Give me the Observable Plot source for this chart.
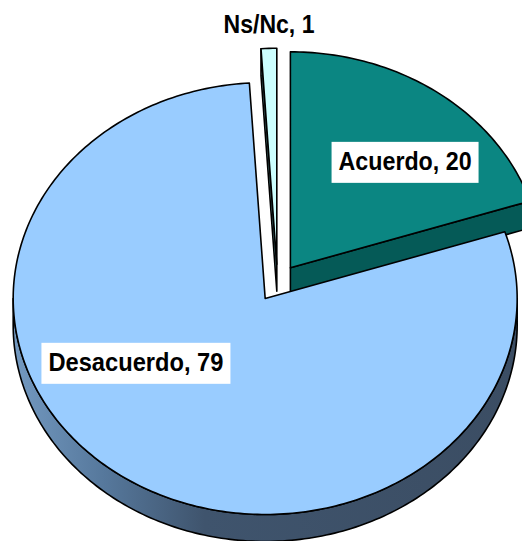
<!DOCTYPE html>
<html><head><meta charset="utf-8">
<script src="https://cdn.jsdelivr.net/npm/d3@7"></script>
<script src="https://cdn.jsdelivr.net/npm/@observablehq/plot@0.6"></script>
<style>html,body{margin:0;padding:0;background:#fff;overflow:hidden;}</style>
</head><body><div id="chart"></div>
<script>
// ---- data ----
const categories = ["Acuerdo", "Desacuerdo", "Ns/Nc"];
const values = [20, 79, 1];
const labels = ["Acuerdo, 20", "Desacuerdo, 79", "Ns/Nc, 1"];

// ---- layout / style ----
const W = 522, H = 541;
const tilt = 0.857, depth = 0.107, explode = 0.087;
const topColor = {"Acuerdo": "#0b8682", "Desacuerdo": "#99ccff", "Ns/Nc": "#ccffff"};
const wallColor = {"Acuerdo": "#055a57", "Desacuerdo": "url(#sideGrad)", "Ns/Nc": "#5f9a9a"};
const labelPlace = {"Acuerdo": [42.9, 0.6685], "Desacuerdo": [239.8, 0.5934], "Ns/Nc": [-1.6, 1.108]};
const labelBox = {"Acuerdo": true, "Desacuerdo": true, "Ns/Nc": false};
const labelWidth = {"Acuerdo": 133, "Desacuerdo": 175, "Ns/Nc": 91};
const drawOrder = ["Ns/Nc", "Acuerdo", "Desacuerdo"];
const rad = d => d * Math.PI / 180;

const arcs = d3.pie().sort(null).startAngle(0).endAngle(2 * Math.PI)(values)
  .map((a, i) => ({...a, name: categories[i], label: labels[i]}));

const pt = (c, a, r, h = 0) => ({x: c.x + r * Math.sin(a), y: c.y - r * Math.cos(a) * tilt + h});
function arcPts(c, a0, a1, h) {
  const n = Math.max(2, Math.ceil(Math.abs(a1 - a0) / rad(1)));
  return d3.range(n + 1).map(k => pt(c, a0 + (a1 - a0) * k / n, 1, h));
}

const marks = [];
const texts = [];
for (const name of drawOrder) {
  const s = arcs.find(d => d.name === name);
  const a0 = s.startAngle, a1 = s.endAngle, mid = (a0 + a1) / 2;
  const c = {x: explode * Math.sin(mid), y: -explode * Math.cos(mid) * tilt};
  const shapes = [];
  // outer wall (front-facing part)
  const lo = Math.max(a0, Math.PI / 2), hi = Math.min(a1, 3 * Math.PI / 2);
  if (hi > lo) shapes.push({fill: wallColor[name], pts: [...arcPts(c, lo, hi, 0), ...arcPts(c, hi, lo, depth)]});
  // radial walls
  for (const [a, n] of [[a0, a0 - Math.PI / 2], [a1, a1 + Math.PI / 2]]) {
    if (Math.cos(n) < -1e-6) {
      const fill = name === "Desacuerdo" ? "#3e536c" : wallColor[name];
      shapes.push({fill, pts: [pt(c, a, 0), pt(c, a, 1), pt(c, a, 1, depth), pt(c, a, 0, depth)]});
    }
  }
  // top face
  shapes.push({fill: topColor[name], pts: [pt(c, 0, 0), ...arcPts(c, a0, a1, 0)]});
  for (const sh of shapes) {
    marks.push(Plot.line(sh.pts, {x: "x", y: "y", fill: sh.fill, stroke: "#000", strokeWidth: 1.6,
      strokeLinejoin: "round", curve: "linear-closed"}));
  }
  const [la, lr] = labelPlace[name];
  texts.push({...pt(c, rad(la), lr), text: s.label, name});
}

const x0 = -277 / 252, y0 = -282.5 / 252;
marks.push(Plot.text(texts, {x: "x", y: "y", text: "text", fontSize: 26, fontWeight: "bold",
  fontFamily: "Liberation Sans, Arial, sans-serif", fill: "#000", lineAnchor: "middle"}));

const svg = Plot.plot({
  width: W, height: H, margin: 0,
  x: {domain: [x0, x0 + W / 252], range: [0, W], axis: null},
  y: {domain: [y0, y0 + H / 252], range: [0, H], axis: null},
  style: {background: "#fff", overflow: "hidden"},
  marks
});
document.getElementById("chart").appendChild(svg);

// gradient for the side wall
const defs = d3.select(svg).insert("defs", ":first-child");
const g = defs.append("linearGradient").attr("id", "sideGrad").attr("x1", 0).attr("x2", 1).attr("y1", 0).attr("y2", 0);
[[0, "#7399c0"], [0.18, "#56789c"], [0.38, "#3f546d"], [1, "#3b4d63"]].forEach(([o, col]) =>
  g.append("stop").attr("offset", o).attr("stop-color", col));

// compress labels and add white boxes
d3.select(svg).selectAll("text").each(function(d, i) {
  const t = texts[i];
  if (!t) return;
  this.setAttribute("textLength", labelWidth[t.name]);
  this.setAttribute("lengthAdjust", "spacingAndGlyphs");
  if (!labelBox[t.name]) return;
  const b = this.getBBox();
  const padX = 7, boxH = 41;
  const r = document.createElementNS("http://www.w3.org/2000/svg", "rect");
  r.setAttribute("x", b.x - padX);
  r.setAttribute("y", b.y + b.height / 2 - boxH / 2 + 1);
  r.setAttribute("width", b.width + 2 * padX);
  r.setAttribute("height", boxH);
  r.setAttribute("fill", "#fff");
  if (this.getAttribute("transform")) r.setAttribute("transform", this.getAttribute("transform"));
  this.parentNode.insertBefore(r, this);
});
</script>
</body></html>
